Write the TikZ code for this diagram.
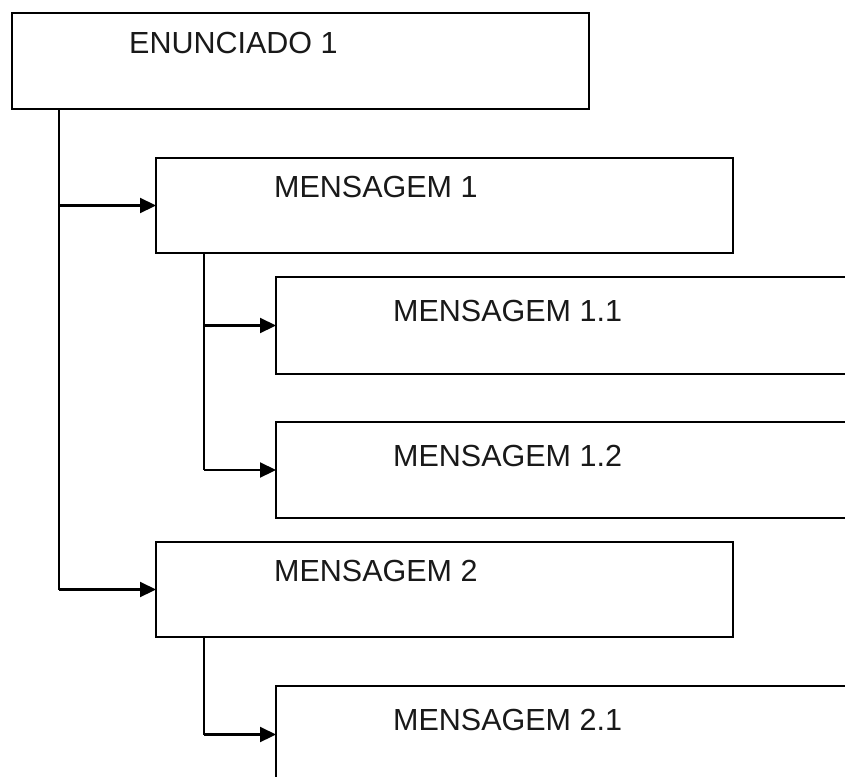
\documentclass[tikz,border=0pt]{standalone}
\usepackage{fontspec}
\setmainfont{Liberation Sans}
\usetikzlibrary{arrows.meta}
\begin{document}
\begin{tikzpicture}[x=1pt,y=-1pt,
  box/.style={draw,line width=2.2pt,rectangle,inner sep=0pt,outer sep=0pt,anchor=north west},
  lbl/.style={anchor=base west,inner sep=0pt,font=\fontsize{30.5}{36}\selectfont,text=black!90},
  conn/.style={line width=2.2pt},
  arr/.style={line width=2.2pt,-{Triangle[length=16pt,width=15pt]}}]
\clip (0,0) rectangle (845,776);
\fill[white] (0,0) rectangle (845,776);
\node[box,minimum width=577pt,minimum height=96pt] (e1) at (12,13) {};
\node[box,minimum width=577pt,minimum height=95pt] (m1) at (156,158) {};
\node[box,minimum width=640pt,minimum height=97pt] (m11) at (276,277) {};
\node[box,minimum width=640pt,minimum height=96pt] (m12) at (276,422) {};
\node[box,minimum width=577pt,minimum height=95pt] (m2) at (156,542) {};
\node[box,minimum width=640pt,minimum height=97pt] (m21) at (276,686) {};
\node[lbl] (te1) at (129,54) {ENUNCIADO 1};
\node[lbl] (tm1) at (274,197) {MENSAGEM 1};
\node[lbl] (tm11) at (393,321) {MENSAGEM 1.1};
\node[lbl] (tm12) at (393,466) {MENSAGEM 1.2};
\node[lbl] (tm2) at (274,581) {MENSAGEM 2};
\node[lbl] (tm21) at (393,730) {MENSAGEM 2.1};
\coordinate (ea) at ([xshift=47pt]e1.south west);
\coordinate (ma) at ([xshift=48pt]m1.south west);
\coordinate (mb) at ([xshift=48pt]m2.south west);
\draw[conn] (ea) -- (ea |- m2.west);
\draw[arr] (ea |- m1.west) -- (m1.west);
\draw[arr] (ea |- m2.west) -- (m2.west);
\draw[conn] (ma) -- (ma |- m12.west);
\draw[arr] (ma |- m11.west) -- (m11.west);
\draw[arr] (ma |- m12.west) -- (m12.west);
\draw[conn] (mb) -- (mb |- m21.west);
\draw[arr] (mb |- m21.west) -- (m21.west);
\end{tikzpicture}
\end{document}
